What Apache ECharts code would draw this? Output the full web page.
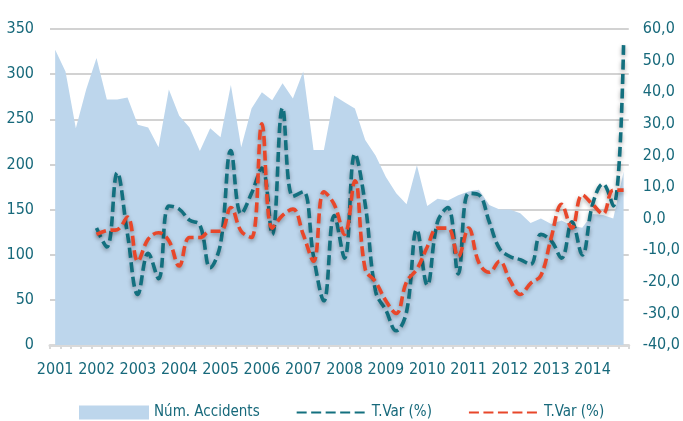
<!DOCTYPE html>
<html>
<head>
<meta charset="utf-8">
<script src="https://cdn.jsdelivr.net/npm/echarts@6/dist/echarts.min.js"></script>
<style>html,body{margin:0;padding:0;background:#fff}#c{width:683px;height:421px}</style>
</head>
<body>
<div id="c"></div>
<script>
var years = ['2001','2002','2003','2004','2005','2006','2007','2008','2009','2010','2011','2012','2013','2014'];
var quarters = [];
years.forEach(function (y) { for (var q = 1; q <= 4; q++) quarters.push(y + 'T' + q); });

var accidents = [327,303,240,283,318,272,272,274,244,241,219,283,254,241,215,240,230,288,219,262,
  280,271,290,273,303,216,216,276,269,262,227,210,186,168,156,199,154,162,160,166,
  170,172,155,150,150,146,135,140,134,138,132,130,145,144,140,192];
var tvarTeal = [null,null,null,null,-3,-9,14.5,-5,-24,-11,-19,4,3,-0.5,-2,-15.5,-8,21.5,1.5,8,
  16,-5,35,7,8.5,-12,-26,1,-12.5,20.5,4.5,-23,-29,-35.5,-29.5,-3.5,-21,-1,3.5,-17.5,
  8,7.5,-1,-9.5,-12,-13,-14.5,-5,-7,-12.5,-1,-11.5,4.5,11,4,55.5];
var tvarRed = [null,null,null,null,-5,-3.8,-3.5,0.5,-13.5,-6.5,-4.5,-7,-15,-6,-6,-4,-4,3.5,-4,-6,
  30,-3,1,3,-5,-13.5,8.5,4.5,-5,12,-16,-20,-26,-30,-20,-16,-9,-3,-3,-12,
  -3,-14,-17,-13.5,-19.5,-24,-20.5,-18,-6,4.5,-3,7.5,4.5,1.5,9,9];

var FONT = "'Liberation Sans Narrow', 'Arial Narrow', 'DejaVu Sans Condensed', sans-serif";
var TXT = '#17697b';
var TEAL = '#13707f';
var RED = '#e8472a';
var AREA = '#bdd6ec';
var chart = echarts.init(document.getElementById('c'), null, {renderer: 'canvas'});
chart.setOption({
  animation: false,
  grid: {left: 50, right: 51, top: 29, bottom: 76, containLabel: false},
  legend: {
    left: 74, top: 400, itemWidth: 70, itemHeight: 14, itemGap: 36,
    textStyle: {color: TXT, fontFamily: FONT, fontSize: 15},
    formatter: function (n) { return n.trim(); },
    data: [
      {name: 'Núm. Accidents', icon: 'rect'},
      {name: 'T.Var (%)', itemStyle: {opacity: 0}},
      {name: 'T.Var (%) ', itemStyle: {opacity: 0}}
    ]
  },
  xAxis: {
    type: 'category', data: quarters, boundaryGap: true,
    axisLine: {lineStyle: {color: '#d9d9d9', width: 3}},
    axisTick: {show: true, interval: 0, length: 4, lineStyle: {color: '#d9d9d9', width: 2}},
    axisLabel: {interval: 3, color: TXT, fontFamily: FONT, fontSize: 16, margin: 17,
      formatter: function (v) { return v.slice(0, 4); }}
  },
  yAxis: [{
    type: 'value', min: 0, max: 350, interval: 50,
    axisLine: {show: false}, axisTick: {show: false},
    axisLabel: {color: TXT, fontFamily: FONT, fontSize: 16, margin: 16},
    splitLine: {lineStyle: {color: '#d2d2d2', width: 2}}
  }, {
    type: 'value', min: -40, max: 60, interval: 10, position: 'right',
    axisLine: {show: false}, axisTick: {show: false},
    axisLabel: {color: TXT, fontFamily: FONT, fontSize: 16, margin: 14,
      formatter: function (v) { return v.toFixed(1).replace('.', ','); }},
    splitLine: {show: false}
  }],
  series: [{
    name: 'Núm. Accidents', type: 'line', data: accidents, yAxisIndex: 0,
    symbol: 'none', lineStyle: {width: 0, color: AREA},
    itemStyle: {color: AREA},
    areaStyle: {color: AREA, opacity: 1}
  }, {
    name: 'T.Var (%)', type: 'line', data: tvarTeal, yAxisIndex: 1,
    symbol: 'none', smooth: 0.4, connectNulls: false,
    itemStyle: {color: TEAL},
    lineStyle: {color: TEAL, width: 3.6, type: [10, 4.5],
      shadowBlur: 4, shadowColor: 'rgba(0,0,0,0.35)', shadowOffsetY: 2}
  }, {
    name: 'T.Var (%) ', type: 'line', data: tvarRed, yAxisIndex: 1,
    symbol: 'none', smooth: 0.4, connectNulls: false,
    itemStyle: {color: RED},
    lineStyle: {color: RED, width: 3.6, type: [10, 4.5],
      shadowBlur: 4, shadowColor: 'rgba(0,0,0,0.35)', shadowOffsetY: 2}
  }]
});
</script>
</body>
</html>
